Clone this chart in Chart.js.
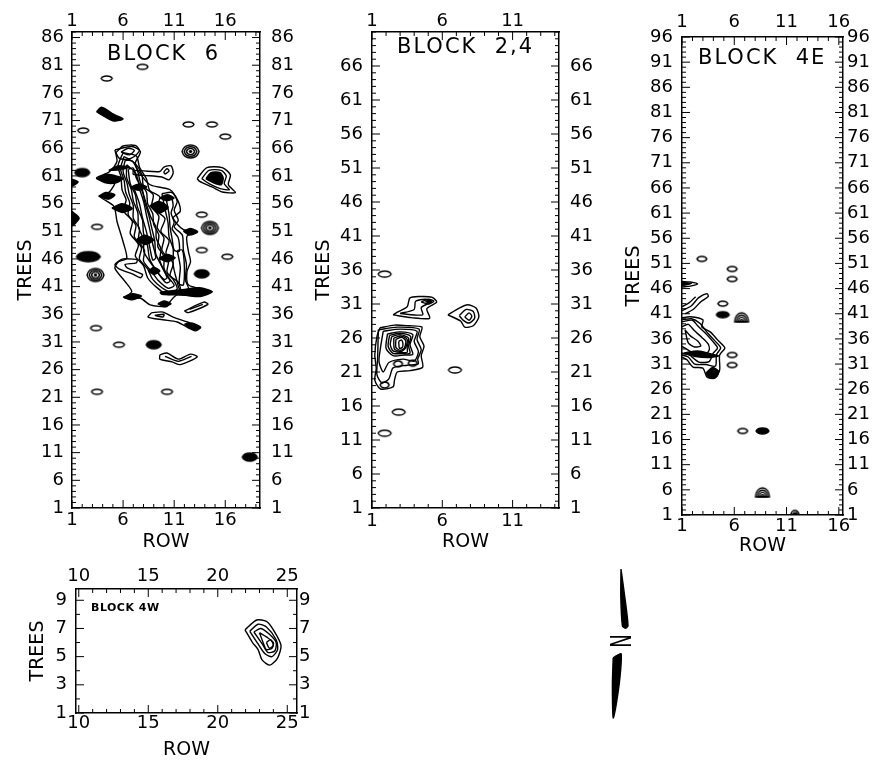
<!DOCTYPE html>
<html>
<head>
<meta charset="utf-8">
<script src="https://cdn.jsdelivr.net/npm/chart.js@4.4.1/dist/chart.umd.min.js"></script>
<style>
    body { margin: 0; background: #fff; width: 883px; height: 761px; position: relative; overflow: hidden; }
    canvas { position: absolute; }
</style>
</head>
<body>
<canvas id="block6" width="310" height="560" style="left:0;top:0"></canvas>
<canvas id="block24" width="290" height="560" style="left:310px;top:0"></canvas>
<canvas id="block4e" width="263" height="560" style="left:620px;top:0"></canvas>
<canvas id="block4w" width="330" height="201" style="left:0;top:560px"></canvas>
<canvas id="north" width="40" height="160" style="left:600px;top:565px"></canvas>
<script>
    // ---- BLOCK 6 ----
    const block6XTicks = [1, 6, 11, 16];
    const block6YTicks = [1, 6, 11, 16, 21, 26, 31, 36, 41, 46, 51, 56, 61, 66, 71, 76, 81, 86];
    const block6XRange = [1, 19.4];
    const block6YRange = [1, 87];
    const block6Rings = [[7.9, 80.7], [4.4, 78.6], [2.1, 69.2], [12.4, 70.3], [14.7, 70.3], [16.0, 68.1],
        [3.45, 51.8], [13.7, 54.0], [13.7, 47.6], [16.2, 46.4], [3.35, 33.5], [5.6, 30.5], [3.45, 22.0], [10.3, 22.0]];
    const block6Solids = [[2.0, 61.6], [13.7, 43.3], [9.0, 30.5], [18.4, 10.2]];
    const block6WideSolids = [[2.6, 46.4]];
    const block6Nested = [[3.3, 43.1], [12.6, 65.4], [14.5, 51.6]];
    const block6Lines = [
        // outer envelope of the main cluster
        [[5.2, 65.7], [6.85, 66.3], [7.7, 65.4], [7.2, 63.3], [7.6, 61.6], [8.65, 59.4], [10.6, 58.5], [11.4, 56.4], [11.6, 54.6],
         [10.9, 53.4], [11.9, 51.3], [13.2, 51.0], [12.25, 50.1], [12.4, 47.3], [12.6, 45.5], [12.25, 43.7], [12.4, 41.3],
         [14.7, 40.1], [13.55, 39.2], [11.3, 39.5], [10.6, 38.3], [10.3, 37.4], [8.65, 37.7], [7.7, 38.9], [6.2, 38.9],
         [6.85, 40.1], [6.2, 41.9], [5.2, 44.3], [5.55, 45.5], [6.36, 46.1], [6.0, 49.1], [5.4, 52.8], [5.1, 55.5],
         [3.75, 57.3], [4.7, 58.2], [5.2, 60.0], [3.4, 60.6], [4.7, 61.8], [5.4, 63.6], [5.2, 65.7]],
        [[6.0, 65.2], [5.5, 62.8], [5.8, 60.8], [5.9, 58.5], [6.3, 56.6], [6.0, 54.8], [6.9, 52.8], [6.7, 50.6], [7.5, 48.6],
         [7.2, 46.5], [8.0, 44.8], [8.4, 42.6], [9.2, 41.0], [10.3, 39.6], [11.6, 40.0], [11.4, 41.8], [10.6, 43.0],
         [10.9, 45.2], [10.2, 47.0], [10.5, 49.3], [9.7, 51.0], [10.1, 53.3], [9.2, 54.9], [9.6, 57.2], [8.6, 58.4],
         [8.3, 60.4], [7.6, 62.6], [7.3, 64.6], [6.0, 65.2]],
        [[6.1, 64.5], [5.75, 62.3], [6.1, 60.2], [6.25, 58.1], [6.65, 56.1], [6.5, 54.0], [7.25, 52.1], [7.1, 50.0], [7.8, 48.0],
         [7.6, 46.0], [8.4, 44.2], [8.9, 42.3], [9.8, 40.8], [10.7, 40.0], [11.3, 40.6], [10.9, 42.3], [10.3, 43.6],
         [10.45, 45.8], [9.8, 47.6], [10.0, 49.8], [9.35, 51.6], [9.5, 53.7], [8.8, 55.5], [8.95, 57.6], [8.0, 59.1],
         [7.85, 61.2], [7.2, 63.2], [6.1, 64.5]],
        [[6.2, 63.8], [6.0, 61.8], [6.4, 59.6], [6.6, 57.7], [7.0, 55.6], [7.0, 53.3], [7.6, 51.5], [7.5, 49.4], [8.1, 47.5],
         [8.0, 45.6], [8.8, 43.7], [9.5, 42.0], [10.4, 40.7], [11.0, 41.2], [10.4, 42.8], [10.0, 44.4], [10.0, 46.5],
         [9.4, 48.2], [9.5, 50.3], [9.0, 52.2], [8.9, 54.2], [8.4, 56.0], [8.3, 58.0], [7.7, 59.8], [7.4, 62.0], [6.9, 63.7], [6.2, 63.8]],
        [[6.35, 63.0], [6.35, 60.7], [6.8, 58.6], [7.0, 56.5], [7.45, 54.3], [7.5, 51.8], [8.0, 49.5], [8.05, 47.2], [8.9, 44.8],
         [9.6, 43.0], [10.2, 41.7], [10.6, 42.0], [10.1, 43.6], [9.6, 45.7], [9.7, 47.8], [9.25, 49.7], [9.2, 51.8],
         [8.7, 53.6], [8.3, 55.8], [8.0, 57.6], [7.6, 59.4], [7.2, 61.6], [6.35, 63.0]],
        [[6.5, 62.2], [6.7, 59.6], [7.2, 57.6], [7.4, 55.4], [7.9, 53.0], [8.0, 50.6], [8.4, 48.3], [8.6, 46.0], [9.3, 43.8],
         [10.0, 42.3], [10.3, 42.6], [9.8, 44.6], [9.2, 46.9], [9.1, 49.2], [8.8, 51.6], [8.5, 54.0], [8.1, 56.3],
         [7.9, 58.4], [7.3, 60.6], [7.0, 62.4], [6.5, 62.2]],
        [[7.1, 58.6], [7.6, 56.0], [7.9, 53.4], [8.3, 50.8], [8.6, 48.2], [8.9, 45.8], [9.2, 46.2], [8.9, 48.7], [8.6, 51.4],
         [8.3, 53.8], [8.0, 56.4], [7.5, 58.9], [7.1, 58.6]],
        // top S-loop
        [[5.3, 65.2], [6.0, 66.4], [7.2, 66.5], [7.6, 65.6], [7.1, 64.5], [6.4, 64.0], [5.6, 64.2], [5.3, 65.2]],
        [[5.8, 65.3], [6.5, 66.0], [7.1, 65.6], [6.6, 64.8], [5.8, 65.3]],
        // bone to the right
        [[7.0, 62.0], [8.0, 61.9], [9.6, 61.8], [10.0, 62.6], [10.7, 62.8], [10.9, 61.5], [10.5, 60.3], [9.8, 60.8],
         [8.0, 61.1], [7.0, 61.3], [7.0, 62.0]],
        [[10.1, 61.3], [10.5, 61.9], [10.3, 62.3], [10.0, 61.7], [10.1, 61.3]],
        // right chain
        [[9.8, 57.8], [10.8, 58.0], [11.3, 56.4], [11.0, 54.8], [11.4, 53.0], [11.0, 51.8], [11.8, 50.3], [11.9, 47.6],
         [12.2, 45.0], [12.1, 42.2], [12.4, 40.6], [11.6, 40.3], [11.2, 42.5], [10.9, 45.0], [10.9, 47.8], [10.5, 50.0],
         [10.4, 52.5], [10.1, 55.0], [9.8, 57.8]],
        [[10.2, 57.0], [10.7, 57.2], [10.9, 55.6], [10.7, 54.3], [11.0, 52.6], [10.8, 51.4], [11.4, 49.8], [11.5, 47.4],
         [11.0, 47.6], [10.8, 49.6], [10.6, 51.8], [10.5, 54.0], [10.2, 57.0]],
        [[11.3, 47.5], [11.6, 44.5], [11.5, 41.5], [11.9, 41.3], [12.0, 44.5], [11.8, 47.6], [11.3, 47.5]],
        // C-loop on the left
        [[7.4, 45.9], [6.0, 46.0], [5.2, 45.0], [5.6, 44.2], [6.9, 43.3], [7.7, 42.6], [7.9, 43.2], [6.4, 44.4],
         [6.2, 45.0], [7.3, 45.3], [7.4, 45.9]],
        // blob at row 15
        [[13.25, 60.5], [14.2, 62.5], [15.7, 62.5], [16.5, 61.2], [16.3, 59.4], [17.0, 58.0], [15.7, 58.1], [14.7, 59.0], [13.5, 60.0], [13.25, 60.5]],
        [[13.7, 60.5], [14.4, 62.0], [15.6, 62.0], [16.1, 61.0], [15.9, 59.6], [16.4, 58.5], [15.5, 58.7], [14.5, 59.5], [13.7, 60.5]],
        // lower shapes
        [[12.0, 36.6], [12.4, 36.3], [14.3, 37.8], [13.9, 38.2], [12.0, 36.6]],
        [[12.5, 36.9], [13.8, 37.8]],
        [[8.8, 36.3], [8.45, 35.5], [9.9, 35.0], [11.3, 34.6], [13.05, 33.0], [13.55, 33.7], [12.3, 34.6], [10.9, 35.5], [9.9, 36.4], [8.8, 36.3]],
        [[9.1, 35.8], [9.9, 35.5], [10.0, 36.0], [9.1, 35.8]],
        [[9.6, 28.7], [10.3, 29.0], [11.4, 27.9], [12.6, 28.8], [13.25, 28.3], [11.6, 26.9], [10.8, 27.4], [9.6, 27.9], [9.6, 28.7]],
        [[10.1, 28.4], [11.4, 27.5], [12.7, 28.4]]
    ];
    const block6Fills = [
        [[3.4, 72.6], [3.9, 73.4], [5.1, 72.1], [6.0, 71.3], [5.1, 70.9], [4.2, 71.7], [3.4, 72.6]],
        [[3.4, 60.5], [4.4, 61.3], [5.5, 60.9], [6.0, 60.5], [5.4, 59.8], [4.4, 59.7], [3.4, 60.5]],
        [[4.6, 62.0], [5.5, 62.8], [6.6, 62.6], [5.6, 62.1], [4.6, 62.0]],
        [[3.6, 57.3], [4.3, 58.0], [5.2, 57.6], [4.6, 56.8], [3.6, 57.3]],
        [[6.7, 58.9], [7.5, 59.5], [8.3, 59.0], [7.5, 58.4], [6.7, 58.9]],
        [[4.9, 55.2], [5.9, 56.0], [6.9, 55.1], [5.9, 54.4], [4.9, 55.2]],
        [[9.6, 57.0], [10.3, 57.6], [11.0, 57.0], [10.3, 56.5], [9.6, 57.0]],
        [[8.6, 55.6], [9.5, 56.4], [10.4, 55.3], [9.5, 54.3], [8.6, 55.6]],
        [[11.9, 51.0], [12.6, 51.5], [13.3, 50.9], [12.5, 50.3], [11.9, 51.0]],
        [[7.3, 49.5], [8.1, 50.3], [9.0, 49.4], [8.1, 48.6], [7.3, 49.5]],
        [[9.5, 46.1], [10.3, 46.8], [11.1, 46.2], [10.3, 45.5], [9.5, 46.1]],
        [[8.5, 43.8], [9.0, 44.5], [9.6, 43.8], [9.0, 43.2], [8.5, 43.8]],
        [[9.6, 40.0], [12.0, 40.5], [13.5, 40.8], [14.7, 40.1], [13.6, 39.4], [11.5, 39.5], [9.8, 39.6], [9.6, 40.0]],
        [[6.0, 39.1], [6.9, 39.7], [7.8, 39.3], [6.9, 38.6], [6.0, 39.1]],
        [[9.4, 37.9], [10.0, 38.4], [10.7, 37.9], [10.0, 37.4], [9.4, 37.9]],
        [[1.0, 60.4], [1.6, 59.9], [1.0, 59.2], [1.0, 60.4]],
        [[1.0, 54.6], [1.7, 53.4], [1.0, 52.0], [1.0, 54.6]],
        [[14.1, 60.5], [14.6, 61.6], [15.5, 61.6], [15.8, 60.6], [15.6, 59.4], [14.8, 59.8], [14.1, 60.5]],
        [[12.0, 34.2], [13.0, 33.2], [13.6, 33.6], [12.8, 34.4], [12.0, 34.2]]
    ];

    // ---- BLOCK 2,4 ----
    const block24XTicks = [1, 6, 11];
    const block24YTicks = [1, 6, 11, 16, 21, 26, 31, 36, 41, 46, 51, 56, 61, 66];
    const block24XRange = [1, 14.3];
    const block24YRange = [1, 71];
    const block24Rings = [[1.9, 35.4], [6.9, 21.3], [2.9, 15.1], [1.9, 12.0]];
    const block24SmallRings = [[2.85, 22.2], [3.9, 22.3], [1.9, 19.1]];
    const block24Lines = [
        [[1.57, 27.5], [2.6, 27.9], [3.6, 27.8], [4.55, 27.6], [4.4, 26.2], [4.7, 24.8], [4.5, 23.4], [4.6, 21.7], [3.7, 21.2],
         [2.8, 21.0], [2.6, 19.8], [2.5, 18.8], [1.6, 18.5], [1.2, 19.8], [1.3, 21.5], [1.2, 23.5], [1.35, 26.2], [1.57, 27.5]],
        [[1.45, 27.2], [2.8, 27.6], [4.35, 27.3], [4.2, 25.8], [4.5, 24.3], [4.25, 22.9], [4.3, 22.2], [3.5, 22.0], [2.5, 21.6],
         [2.2, 20.0], [1.7, 19.4], [1.35, 20.6], [1.4, 23.0], [1.45, 27.2]],
        [[1.8, 27.0], [3.0, 27.3], [4.2, 27.0], [4.0, 25.5], [4.3, 24.0], [4.0, 22.6], [3.2, 22.9], [2.2, 22.4], [1.8, 21.0],
         [1.5, 22.5], [1.6, 24.5], [1.8, 27.0]],
        [[2.1, 26.6], [3.0, 26.9], [3.9, 26.5], [3.7, 25.0], [3.9, 23.6], [3.3, 23.5], [2.5, 23.4], [2.0, 24.5], [2.1, 26.6]],
        [[2.25, 26.4], [3.0, 26.7], [3.75, 26.25], [3.6, 24.85], [3.7, 23.75], [3.15, 23.7], [2.5, 23.75], [2.15, 24.75], [2.25, 26.4]],
        [[2.4, 26.2], [3.0, 26.5], [3.6, 26.0], [3.5, 24.7], [3.5, 23.9], [3.0, 23.9], [2.5, 24.1], [2.3, 25.0], [2.4, 26.2]],
        [[2.55, 26.0], [3.05, 26.3], [3.5, 25.8], [3.4, 24.6], [3.1, 24.05], [2.6, 24.35], [2.55, 26.0]],
        [[2.7, 25.8], [3.1, 26.1], [3.4, 25.6], [3.3, 24.5], [3.0, 24.2], [2.7, 24.6], [2.7, 25.8]],
        [[2.9, 25.5], [3.1, 25.7], [3.2, 25.2], [3.15, 24.6], [2.95, 24.5], [2.9, 25.5]],
        [[2.5, 29.4], [3.8, 29.0], [5.1, 28.9], [4.9, 30.3], [5.6, 31.3], [5.25, 32.0], [4.4, 32.1], [3.7, 31.9], [3.5, 30.6], [2.8, 29.8], [2.5, 29.4]],
        [[3.0, 29.6], [4.6, 29.4], [4.5, 30.5], [5.2, 31.3], [4.8, 31.7], [4.1, 31.4], [4.0, 30.2], [3.0, 29.6]],
        [[4.5, 31.3], [5.0, 31.7], [5.4, 31.4], [5.0, 31.0], [4.5, 31.3]],
        [[6.4, 29.4], [7.2, 30.4], [7.8, 30.9], [8.4, 30.4], [8.6, 29.1], [8.2, 27.8], [7.6, 27.6], [7.3, 28.5], [6.4, 29.4]],
        [[7.2, 29.3], [7.7, 30.2], [8.2, 29.9], [8.3, 28.9], [7.9, 28.2], [7.5, 28.6], [7.2, 29.3]],
        [[7.6, 29.1], [7.9, 29.7], [8.1, 29.2], [7.9, 28.6], [7.6, 29.1]]
    ];
    const block24Fills = [
        [[4.8, 31.35], [5.05, 31.55], [5.25, 31.35], [5.0, 31.2], [4.8, 31.35]]
    ];

    // ---- BLOCK 4E ----
    const block4eXTicks = [1, 6, 11, 16];
    const block4eYTicks = [1, 6, 11, 16, 21, 26, 31, 36, 41, 46, 51, 56, 61, 66, 71, 76, 81, 86, 91, 96];
    const block4eXRange = [1, 16.4];
    const block4eYRange = [1, 96];
    const block4eRings = [[2.9, 51.9], [5.8, 49.9], [5.8, 47.9], [4.9, 43.0], [5.8, 32.8], [5.8, 30.8], [6.8, 17.7]];
    const block4eSolids = [[4.9, 40.8], [8.7, 17.7]];
    const block4eDomes = [[6.7, 40.2], [8.7, 5.4]];
    const block4eSmallDomes = [[11.8, 1.4]];
    const block4eLines = [
        [[1.0, 40.2], [1.8, 40.4], [3.0, 39.8], [2.9, 38.4], [3.7, 37.4], [4.4, 35.8], [5.1, 34.2], [4.6, 32.8], [4.6, 29.8],
         [4.15, 28.2], [3.4, 28.4], [3.0, 30.2], [2.05, 30.4], [1.5, 31.8], [1.0, 32.4]],
        [[1.0, 39.8], [1.9, 40.0], [2.7, 39.1], [3.4, 37.3], [4.1, 35.7], [4.7, 34.2], [4.3, 32.9], [4.2, 30.6], [3.3, 30.9], [2.2, 31.0], [1.6, 32.4], [1.0, 32.8]],
        [[1.0, 39.4], [2.0, 39.7], [2.5, 38.6], [3.2, 37.2], [3.9, 35.6], [4.4, 34.2], [4.0, 33.2], [3.6, 31.5], [2.6, 31.4], [1.7, 32.8], [1.0, 33.2]],
        [[1.0, 38.4], [1.6, 38.9], [2.2, 37.6], [2.9, 36.3], [3.5, 35.0], [3.6, 33.8], [3.1, 32.6], [2.2, 33.0], [1.4, 34.0], [1.0, 34.5]],
        [[1.3, 37.8], [1.8, 36.6], [2.5, 35.6], [2.8, 34.6], [2.2, 34.4], [1.6, 35.2], [1.3, 37.8]],
        [[1.0, 41.6], [1.9, 42.6], [2.6, 44.2], [3.4, 45.0], [3.5, 44.4], [2.8, 43.4], [2.1, 41.9], [1.3, 41.0]],
        [[1.0, 42.4], [1.7, 43.2], [2.3, 44.4]],
        [[1.0, 47.4], [1.8, 47.3], [2.5, 46.9], [1.8, 46.5], [1.0, 46.3]]
    ];
    const block4eFills = [
        [[1.2, 33.2], [2.5, 33.6], [3.8, 33.0], [4.5, 32.6], [3.6, 32.3], [2.3, 32.5], [1.2, 33.2]],
        [[3.3, 29.2], [3.9, 30.3], [4.5, 29.6], [4.3, 28.5], [3.6, 28.3], [3.3, 29.2]],
        [[1.0, 47.2], [1.9, 47.0], [1.0, 46.6]]
    ];

    // ---- BLOCK 4W ----
    const block4wXTicks = [10, 15, 20, 25];
    const block4wYTicks = [1, 3, 5, 7, 9];
    const block4wXRange = [9.8, 25.7];
    const block4wYRange = [1, 9.8];
    const block4wLines = [
        [[21.96, 6.9], [22.8, 7.6], [23.5, 7.5], [24.0, 6.9], [24.55, 5.8], [24.3, 4.9], [23.75, 4.4], [23.2, 4.75], [22.9, 5.5], [22.5, 6.0], [21.96, 6.9]],
        [[22.3, 6.8], [22.9, 7.3], [23.5, 7.1], [24.2, 6.2], [24.3, 5.5], [23.9, 5.0], [23.4, 5.2], [22.9, 5.9], [22.3, 6.8]],
        [[22.6, 6.75], [23.1, 7.0], [23.7, 6.6], [24.2, 6.0], [24.1, 5.4], [23.6, 5.3], [23.2, 5.9], [22.6, 6.75]],
        [[23.0, 6.7], [23.5, 6.4], [24.0, 6.0], [23.9, 5.6], [23.5, 5.5], [23.3, 5.9], [23.0, 6.7]],
        [[23.5, 6.0], [23.8, 6.2], [24.0, 5.8], [23.7, 5.6], [23.5, 6.0]]
    ];

    // ---- north arrow ----
    const northTop = [[5.25, 97.5], [6.2, 80], [7.0, 62], [6.3, 60.5], [5.6, 62], [5.2, 80], [5.25, 97.5]];
    const northBottom = [[3.3, 42], [4.3, 43.5], [5.3, 44.5], [5.0, 30], [4.0, 12], [3.3, 4.4], [3.1, 25], [3.3, 42]];
    const northLabelAt = [4.3, 52.5];

    const tickFont = { family: 'DejaVu Sans', size: 18 };
    const titleFont = { family: 'DejaVu Sans', size: 19 };

    // 标记形状（小等值线圈）
    function markCanvas(w, h, mode) {
        const c = document.createElement('canvas');
        c.width = w + 4;
        c.height = h + 4;
        const g = c.getContext('2d');
        const cx = c.width / 2, cy = c.height / 2;
        g.strokeStyle = '#000';
        g.fillStyle = '#000';
        g.lineWidth = 1.4;
        const lens = (hw, hh) => {
            g.beginPath();
            g.moveTo(cx - hw, cy);
            g.bezierCurveTo(cx - hw * 0.7, cy - hh * 1.33, cx + hw * 0.7, cy - hh * 1.33, cx + hw, cy);
            g.bezierCurveTo(cx + hw * 0.7, cy + hh * 1.33, cx - hw * 0.7, cy + hh * 1.33, cx - hw, cy);
            g.closePath();
        };
        if (mode === 'ring') {
            lens(w / 2, h / 2);
            g.stroke();
        } else if (mode === 'solid') {
            lens(w / 2, h / 2);
            g.fill();
            g.stroke();
        } else if (mode === 'nested') {
            for (let k = 0; k < 3; k++) {
                lens(w / 2 - k * 2.2, h / 2 - k * 1.7);
                g.stroke();
            }
            lens(w / 2 - 6.6, h / 2 - 5);
            g.fill();
        } else if (mode === 'dome') {
            const base = cy + h / 2 - 1;
            for (let k = 0; k < 4; k++) {
                g.beginPath();
                g.ellipse(cx, base, Math.max(w / 2 - k * 1.8, 1), Math.max(h - 1 - k * 2.2, 1), 0, Math.PI, 2 * Math.PI);
                g.closePath();
                g.stroke();
            }
        }
        return c;
    }

    function lineSet(pts, filled) {
        return {
            data: pts.map(p => ({ x: p[0], y: p[1] })),
            showLine: true,
            tension: 0.25,
            borderColor: '#000',
            borderWidth: 1.4,
            backgroundColor: '#000',
            pointRadius: 0,
            fill: filled ? 'shape' : false
        };
    }

    function markSet(pts, style) {
        return {
            data: pts.map(p => ({ x: p[0], y: p[1] })),
            showLine: false,
            pointStyle: style,
            pointRadius: 4,
            pointHoverRadius: 4
        };
    }

    function axis(position, range, ticks, size, pad, title, titlePad) {
        return {
            type: 'linear',
            position: position,
            min: range[0],
            max: range[1],
            grid: { display: false, drawTicks: false },
            border: { display: true, color: '#000', width: 1.5 },
            ticks: { color: '#000', font: tickFont, padding: pad, autoSkip: false, maxRotation: 0, minRotation: 0, callback: v => String(v) },
            afterBuildTicks: s => { s.ticks = ticks.map(v => ({ value: v })); },
            afterFit: s => { if (s.isHorizontal()) s.height = size; else s.width = size; },
            title: title ? { display: true, text: title, color: '#000', font: titleFont, padding: titlePad } : { display: false }
        };
    }

    // 向内的刻度线
    const innerTicks = {
        id: 'innerTicks',
        afterDraw(chart, args, opts) {
            if (!opts.on) return;
            const ctx = chart.ctx;
            ctx.save();
            ctx.strokeStyle = '#000';
            ctx.lineWidth = 1;
            Object.values(chart.scales).forEach(s => {
                const major = s.ticks.map(t => t.value);
                for (let v = Math.ceil(s.min); v <= s.max; v++) {
                    const p = s.getPixelForValue(v);
                    const len = major.includes(v) ? 8 : 4;
                    ctx.beginPath();
                    if (s.position === 'bottom') { ctx.moveTo(p, s.top); ctx.lineTo(p, s.top - len); }
                    else if (s.position === 'top') { ctx.moveTo(p, s.bottom); ctx.lineTo(p, s.bottom + len); }
                    else if (s.position === 'left') { ctx.moveTo(s.right, p); ctx.lineTo(s.right + len, p); }
                    else { ctx.moveTo(s.left, p); ctx.lineTo(s.left - len, p); }
                    ctx.stroke();
                }
            });
            ctx.restore();
        }
    };

    // 图内标题 BLOCK ...
    const blockLabel = {
        id: 'blockLabel',
        afterDraw(chart, args, opts) {
            if (!opts.text) return;
            const ctx = chart.ctx;
            const area = chart.chartArea;
            ctx.save();
            ctx.fillStyle = '#000';
            ctx.font = opts.font;
            ctx.letterSpacing = opts.spacing || '0px';
            ctx.textBaseline = 'middle';
            ctx.fillText(opts.text, area.left + opts.dx, area.top + opts.dy);
            ctx.restore();
        }
    };

    function makePanel(id, cfg) {
        return new Chart(document.getElementById(id), {
            type: 'scatter',
            data: { datasets: cfg.datasets },
            options: {
                responsive: false,
                animation: false,
                events: [],
                layout: { padding: 0 },
                plugins: {
                    legend: { display: false },
                    tooltip: { enabled: false },
                    innerTicks: { on: true },
                    blockLabel: cfg.label
                },
                scales: {
                    x: axis('bottom', cfg.xRange, cfg.xTicks, cfg.sizes.bottom, cfg.pads.bottom, 'ROW', { bottom: cfg.titlePads.row }),
                    x2: axis('top', cfg.xRange, cfg.xTicks, cfg.sizes.top, cfg.pads.top),
                    y: axis('left', cfg.yRange, cfg.yTicks, cfg.sizes.left, cfg.pads.left, 'TREES', { top: cfg.titlePads.trees }),
                    y2: axis('right', cfg.yRange, cfg.yTicks, cfg.sizes.right, cfg.pads.right)
                }
            },
            plugins: [innerTicks, blockLabel]
        });
    }

    const ring11 = markCanvas(11, 5, 'ring');
    const ring13 = markCanvas(13, 6, 'ring');
    const ring9 = markCanvas(9, 6, 'ring');
    const ring10 = markCanvas(10, 5, 'ring');
    const solid15 = markCanvas(15, 8, 'solid');
    const solid22 = markCanvas(24, 10, 'solid');
    const solid13 = markCanvas(13, 6, 'solid');
    const nested17 = markCanvas(17, 13, 'nested');
    const dome14 = markCanvas(14, 10, 'dome');
    const dome8 = markCanvas(8, 5, 'dome');

    makePanel('block6', {
        xRange: block6XRange, yRange: block6YRange, xTicks: block6XTicks, yTicks: block6YTicks,
        sizes: { left: 72, right: 50, top: 32, bottom: 52 },
        pads: { left: 8, right: 11, top: 0, bottom: 2 },
        titlePads: { trees: 15, row: 7 },
        label: { text: 'BLOCK  6', dx: 35, dy: 23, font: '21px "DejaVu Sans"', spacing: '2px' },
        datasets: [
            ...block6Lines.map(l => lineSet(l, false)),
            ...block6Fills.map(l => lineSet(l, true)),
            markSet(block6Rings, ring11),
            markSet(block6Solids, solid15),
            markSet(block6WideSolids, solid22),
            markSet(block6Nested, nested17)
        ]
    });

    makePanel('block24', {
        xRange: block24XRange, yRange: block24YRange, xTicks: block24XTicks, yTicks: block24YTicks,
        sizes: { left: 62, right: 41, top: 32, bottom: 52 },
        pads: { left: 9, right: 11, top: 0, bottom: 3 },
        titlePads: { trees: 3, row: 7 },
        label: { text: 'BLOCK  2,4', dx: 25, dy: 16, font: '21px "DejaVu Sans"', spacing: '2px' },
        datasets: [
            ...block24Lines.map(l => lineSet(l, false)),
            ...block24Fills.map(l => lineSet(l, true)),
            markSet(block24Rings, ring13),
            markSet(block24SmallRings, ring9)
        ]
    });

    makePanel('block4e', {
        xRange: block4eXRange, yRange: block4eYRange, xTicks: block4eXTicks, yTicks: block4eYTicks,
        sizes: { left: 62, right: 40, top: 37, bottom: 45 },
        pads: { left: 9, right: 4, top: 4, bottom: 1 },
        titlePads: { trees: 3, row: 3 },
        label: { text: 'BLOCK  4E', dx: 16, dy: 22, font: '21px "DejaVu Sans"', spacing: '2px' },
        datasets: [
            ...block4eLines.map(l => lineSet(l, false)),
            ...block4eFills.map(l => lineSet(l, true)),
            markSet(block4eRings, ring10),
            markSet(block4eSolids, solid13),
            markSet(block4eDomes, dome14),
            markSet(block4eSmallDomes, dome8)
        ]
    });

    makePanel('block4w', {
        xRange: block4wXRange, yRange: block4wYRange, xTicks: block4wXTicks, yTicks: block4wYTicks,
        sizes: { left: 76, right: 33, top: 29, bottom: 48 },
        pads: { left: 9, right: 2, top: 2, bottom: 0 },
        titlePads: { trees: 27, row: 0 },
        label: { text: 'BLOCK 4W', dx: 15, dy: 19, font: 'bold 11px "DejaVu Sans"', spacing: '0.5px' },
        datasets: block4wLines.map(l => lineSet(l, false))
    });

    // 指北针
    new Chart(document.getElementById('north'), {
        type: 'scatter',
        data: { datasets: [lineSet(northTop, true), lineSet(northBottom, true)] },
        options: {
            responsive: false,
            animation: false,
            events: [],
            layout: { padding: 0 },
            plugins: { legend: { display: false }, tooltip: { enabled: false } },
            scales: {
                x: { display: false, min: 0, max: 10 },
                y: { display: false, min: 0, max: 100 }
            }
        },
        plugins: [{
            id: 'northLetter',
            afterDraw(chart) {
                const ctx = chart.ctx;
                const px = chart.scales.x.getPixelForValue(northLabelAt[0]);
                const py = chart.scales.y.getPixelForValue(northLabelAt[1]);
                ctx.save();
                ctx.translate(px, py);
                ctx.rotate(Math.PI / 2);
                ctx.scale(0.65, 1);
                ctx.fillStyle = '#000';
                ctx.font = '28px "DejaVu Sans"';
                ctx.textAlign = 'center';
                ctx.textBaseline = 'middle';
                ctx.fillText('N', 0, 0);
                ctx.restore();
            }
        }]
    });
</script>
</body>
</html>
